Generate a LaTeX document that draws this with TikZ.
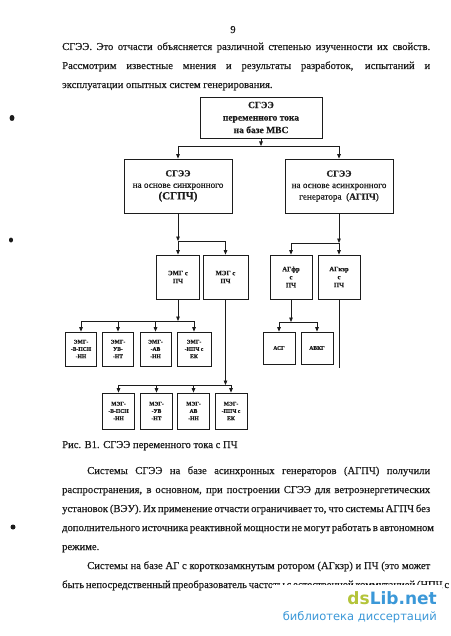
\documentclass[tikz,border=0pt]{standalone}
\usepackage{fontspec}
\setmainfont{Liberation Serif}[FakeBold=0.35]
\newfontfamily\wmfont{DejaVu Sans}
\usepackage{tikz}
\usetikzlibrary{arrows.meta, calc, positioning}
\definecolor{inkcol}{HTML}{1C1C1C}
\definecolor{wmgreen}{HTML}{B4C43A}
\definecolor{wmblue}{HTML}{3B98D8}

\begin{document}
\begin{tikzpicture}[
    x=1pt, y=-1pt,
    blk/.style={draw=inkcol, line width=0.8pt, inner sep=1pt, align=center,
                text=inkcol},
    bigblk/.style={blk, minimum width=108pt, minimum height=54pt,
                   font=\fontsize{9.2}{11.5}\selectfont},
    midblk/.style={blk, minimum width=43pt, minimum height=44pt,
                   font=\bfseries\fontsize{6.7}{8}\selectfont},
    smallblk/.style={blk, minimum width=31pt, minimum height=34pt,
                     font=\bfseries\fontsize{5.6}{7.3}\selectfont},
    conn/.style={draw=inkcol, line width=0.8pt},
    arr/.style={conn, -{Triangle[length=4.5pt, width=3.6pt]}},
    bodytext/.style={anchor=base west, inner sep=0pt, text=inkcol,
                     font=\fontsize{10.6}{12}\selectfont},
  ]
  \useasboundingbox (0,0) rectangle (450,636);
  \fill[white] (0,0) rectangle (450,636);

  % ---------------------------------------------------------
  %  text above the figure
  % ---------------------------------------------------------
  \node[bodytext, anchor=base] (pnum) at (233,33) {9};
  \node[bodytext] (top1) at (62,50)
    {\makebox[368pt][s]{СГЭЭ. Это отчасти объясняется различной степенью изученности их свойств.}};
  \node[bodytext] (top2) at (62,69)
    {\makebox[368pt][s]{Рассмотрим известные мнения и результаты разработок, испытаний и}};
  \node[bodytext] (top3) at (62,88) {эксплуатации опытных систем генерирования.};

  % ---------------------------------------------------------
  %  upper blocks
  % ---------------------------------------------------------
  \node[blk, minimum width=122pt, minimum height=41pt,
        font=\bfseries\fontsize{9.5}{12.5}\selectfont] (mvs) at (261,117.5)
    {СГЭЭ\\переменного тока\\на базе МВС};
  \node[bigblk] (sgpch) at (178,186)
    {\textbf{СГЭЭ}\\на основе синхронного\\{\bfseries\fontsize{11}{13}\selectfont (СГПЧ)}};
  \node[bigblk] (agpch) at (339,186)
    {\textbf{СГЭЭ}\\на основе асинхронного\\генератора~ (\textbf{АГПЧ})};

  \coordinate (jTop) at (261,146);
  \coordinate (jL) at (178,146);
  \coordinate (jR) at (339,146);
  \draw[arr] (mvs) -- (jTop);
  \draw[conn] (jL) -- (jR);
  \draw[arr] (jL) -- (sgpch);
  \draw[arr] (jR) -- (agpch);

  % ---------------------------------------------------------
  %  second level
  % ---------------------------------------------------------
  \node[midblk] (emg) at (178,277) {ЭМГ с\\ПЧ};
  \node[midblk, minimum width=45pt] (meg) at (225.5,277) {МЭГ с\\ПЧ};
  \node[midblk, minimum width=42pt] (agfr) at (291,277) {АГфр\\с\\ПЧ};
  \node[midblk, minimum width=42pt] (agkzr) at (339,277) {АГкзр\\с\\ПЧ};

  \coordinate (jS) at (178,241);
  \coordinate (jS2) at (225.5,241);
  \draw[arr] (sgpch) -- (jS);
  \draw[conn] (jS) -- (jS2);
  \draw[arr] (jS) -- (emg);
  \draw[arr] (jS2) -- (meg);

  \coordinate (jA) at (339,243);
  \coordinate (jA2) at (291,243);
  \draw[arr] (agpch) -- (jA);
  \draw[conn] (jA2) -- (jA);
  \draw[arr] (jA2) -- (agfr);
  \draw[arr] (jA) -- (agkzr);

  % ---------------------------------------------------------
  %  third level: ЭМГ variants, АГфр variants
  % ---------------------------------------------------------
  \foreach \nm/\cx/\bw/\txt in {e1/81/31/{ЭМГ-\\-В-ПСН\\-НН},
                                 e2/118/31/{ЭМГ-\\УВ-\\-НТ},
                                 e3/155.5/31/{ЭМГ-\\-АВ\\-НН},
                                 e4/194/34/{ЭМГ-\\-НПЧ с\\ЕК}}{
    \node[smallblk, minimum width=\bw pt] (\nm) at (\cx,349) {\txt};
  }
  \coordinate (jE) at (178,321);
  \coordinate (jE1) at (81,321);
  \coordinate (jE4) at (194,321);
  \draw[arr] (emg) -- (jE);
  \draw[conn] (jE1) -- (jE4);
  \foreach \nm in {e1,e2,e3,e4}{
    \draw[arr] (\nm |- jE) -- (\nm);
  }

  \node[smallblk, minimum width=32pt, minimum height=32pt] (asg) at (279,348) {АСГ};
  \node[smallblk, minimum width=32pt, minimum height=32pt] (avkg) at (317,348) {АВКГ};
  \coordinate (jF) at (291,322);
  \coordinate (jF1) at (279,322);
  \coordinate (jF2) at (317,322);
  \draw[arr] (agfr) -- (jF);
  \draw[conn] (jF1) -- (jF2);
  \draw[arr] (jF1) -- (asg);
  \draw[arr] (jF2) -- (avkg);

  % АГкзр branch ends open
  \coordinate (kzrEnd) at (339,368);
  \draw[conn] (agkzr) -- (kzrEnd);

  % ---------------------------------------------------------
  %  fourth level: МЭГ variants
  % ---------------------------------------------------------
  \foreach \nm/\cx/\txt in {m1/118.5/{МЭГ-\\-В-ПСН\\-НН},
                            m2/156.5/{МЭГ-\\-УВ\\-НТ},
                            m3/193.5/{МЭГ-\\АВ\\-НН},
                            m4/231/{МЭГ-\\-ППЧ с\\ЕК}}{
    \node[smallblk, minimum width=32pt, minimum height=36pt] (\nm) at (\cx,411) {\txt};
  }
  \coordinate (jM) at (225.5,385);
  \coordinate (jM1) at (118.5,385);
  \coordinate (jM4) at (231,385);
  \draw[arr] (meg) -- (jM);
  \draw[conn] (jM1) -- (jM4);
  \foreach \nm in {m1,m2,m3,m4}{
    \draw[arr] (\nm |- jM) -- (\nm);
  }

  % ---------------------------------------------------------
  %  caption and text below
  % ---------------------------------------------------------
  \node[bodytext] (capt) at (62,448) {Рис. В1. СГЭЭ переменного тока с ПЧ};
  \node[bodytext] (par1) at (87,474)
    {\makebox[343pt][s]{Системы СГЭЭ на базе асинхронных генераторов (АГПЧ) получили}};
  \node[bodytext] (par2) at (62,493)
    {\makebox[368pt][s]{распространения, в основном, при построении СГЭЭ для ветроэнергетических}};
  \node[bodytext] (par3) at (62,512)
    {\makebox[368pt][s]{установок (ВЭУ). Их применение отчасти ограничивает то, что системы АГПЧ без}};
  \node[bodytext] (par4) at (62,531)
    {\makebox[368pt][s]{дополнительного источника реактивной мощности не могут работать в автономном}};
  \node[bodytext] (par5) at (62,550) {режиме.};
  \node[bodytext] (par6) at (87,569)
    {\makebox[343pt][s]{Системы на базе АГ с короткозамкнутым ротором (АГкзр) и ПЧ (это может}};
  \node[bodytext] (par7) at (62,588)
    {\makebox[368pt][s]{быть непосредственный преобразователь частоты с естественной коммутацией (НПЧ с}};

  % scan marks in the margin
  \fill[inkcol] (12,118) ellipse (2.5 and 3);
  \fill[inkcol] (11,240) ellipse (2 and 2.5);
  \fill[inkcol] (13,527) ellipse (2.5 and 2.5);

  % watermark
  \fill[white] (272,584.5) rectangle (442,628);
  \node[anchor=base east, inner sep=0pt,
        font=\wmfont\bfseries\fontsize{17}{17}\selectfont] (wmlogo) at (437,604)
    {\textcolor{wmgreen}{ds}\textcolor{wmblue}{Lib.net}};
  \node[anchor=base east, inner sep=0pt, text=wmblue,
        font=\wmfont\fontsize{11.5}{12}\selectfont] (wmsub) at (437,620)
    {библиотека диссертаций};
\end{tikzpicture}
\end{document}
